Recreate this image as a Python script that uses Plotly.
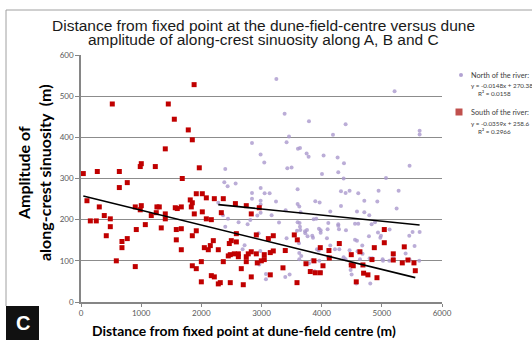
import plotly.graph_objects as go
import numpy as np

# ---------------- data ----------------
south_x = [1880, 520, 1451, 1551, 1783, 1850, 1401, 1002, 985, 1235, 1966, 38, 271, 637, 1683,
           769, 637, 99, 304, 387, 487, 155, 254, 487, 420, 681, 769, 681, 587, 902, 919, 1069,
           902, 1002, 985, 1168, 1262, 1301, 1251, 1401, 1401, 1334, 1567, 1600, 1667, 1816, 1850,
           1833, 1916, 2016, 2083, 2216, 2365, 1883, 2016, 2083, 2166, 2332, 2566, 2747, 2830, 2963,
           1584, 1667, 1916, 1584, 1850, 1667, 2199, 2050, 2116, 2149, 2282, 2465, 2498, 2582, 2582,
           2914, 3114, 3196, 2448, 2481, 2548, 2615, 2615, 2747, 2780, 2830, 2914, 3046, 3146, 3196,
           2747, 2930, 2997, 3046, 2365, 2000, 1850, 1916, 2000, 2166, 2216, 2282, 2315, 2481, 2664,
           2697, 2830, 3146,
           3545, 3595, 3395, 3977, 4121, 4293, 4492, 4636, 4875, 5041, 5041, 5190, 5373, 5190, 5340,
           5434, 5534, 5556, 4127, 3872, 3739, 4022, 3357, 3811, 3894, 3977, 4492, 4525, 4686, 4836,
           4697, 4769, 4919, 3590, 4575]
south_y = [528, 481, 481, 444, 418, 394, 372, 336, 329, 329, 326, 312, 317, 317, 300,
           290, 278, 246, 231, 210, 202, 197, 197, 183, 161, 147, 154, 132, 100, 86, 176, 188,
           231, 234, 224, 210, 231, 231, 217, 214, 202, 180, 229, 227, 231, 248, 241,
           231, 263, 263, 253, 251, 251, 214, 219, 202, 200, 217, 239, 234, 214, 229,
           176, 178, 173, 151, 161, 127, 149, 132, 127, 137, 127, 142, 149, 146, 166,
           163, 154, 161, 112, 115, 117, 117, 110, 110, 117, 122, 117, 115, 120, 124,
           98, 95, 100, 103, 98, 98, 88, 81, 49, 64, 61, 44, 47, 47, 81,
           42, 61, 66,
           163, 151, 125, 132, 125, 142, 115, 122, 132, 176, 144, 117, 134, 102, 95,
           102, 95, 76, 107, 100, 93, 88, 83, 74, 71, 71, 90, 88, 90, 103,
           70, 66, 59, 47, 49]

north_x = [3247, 2842, 2985, 3046, 2398,
           5212, 3384, 3789, 4398, 5628, 5628, 3457, 4188, 3417, 3606, 3640, 3750, 3783, 4032, 4265,
           4371, 3429, 3500, 5461, 4005, 4276, 4365, 5069,
           2382, 2437, 2570, 2986, 2842, 3052, 3135, 2842, 2985, 2985, 3241, 2282, 2985, 2930, 3168,
           2360, 2443, 2619, 2769, 2814, 3291, 2398, 2952, 2719, 2686, 2980, 2963, 3074, 3074,
           3600, 4321, 4398, 4464, 4608, 4946, 5279, 3600, 3628, 3894, 3966, 4709, 4925, 4321, 3401,
           3650, 4143, 4587, 4709, 4791, 5246, 3600, 3633, 3866, 3910, 4110, 4276, 4276, 4554, 4608,
           4830, 4886, 3639, 3645, 3590, 3723, 3756, 3955, 3983, 3983, 4099, 4288, 4404, 4936, 5129,
           4986, 4975, 5511, 5628, 5456, 3728, 3766, 3844, 3856, 3417, 3623, 4088, 4554, 4587, 4786,
           4675, 5544, 4143, 4221, 4293, 4464, 3922, 3950, 3628, 3661, 3628, 3844, 3789, 3961, 3883,
           3989, 4110, 4365, 4398, 4481, 4481, 4498, 4597, 4680, 4637, 4797, 4841, 5013, 5019, 5124,
           5191, 5395, 5461, 5622, 3395, 3467, 4575, 4808]
north_y = [542, 386, 358, 339, 323,
           512, 457, 439, 432, 416, 407, 402, 406, 388, 372, 374, 361, 353, 356, 351,
           337, 325, 327, 331, 311, 315, 300, 301,
           291, 281, 288, 277, 265, 264, 264, 251, 246, 237, 244, 241, 217, 210, 211,
           211, 202, 194, 189, 199, 193, 183, 167, 138, 128, 124, 91, 68, 55,
           274, 269, 265, 270, 264, 270, 270, 238, 232, 245, 242, 246, 244, 233, 223,
           218, 220, 220, 218, 211, 227, 194, 192, 201, 202, 192, 189, 185, 190, 190,
           189, 194, 183, 175, 173, 172, 175, 178, 174, 168, 177, 177, 174, 169, 176,
           161, 156, 170, 170, 161, 167, 160, 161, 156, 155, 143, 155, 151, 149, 160,
           137, 136, 137, 128, 128, 126, 128, 125, 119, 112, 104, 102, 94, 100, 75,
           73, 109, 109, 104, 92, 78, 67, 123, 117, 104, 106, 106, 104, 100, 100,
           106, 118, 103, 100, 61, 67, 45, 45]

north_fit = (-0.0148, 270.38)
south_fit = (-0.0359, 258.65)

title_lines = ["Distance from fixed point at the dune-field-centre versus dune",
               "amplitude of along-crest sinuosity along A, B and C"]
x_title = "Distance from fixed point at dune-field centre (m)"
y_title = "Amplitude of<br>along-crest sinuosity\u00a0 (m)"
north_label = ["North of the river:", "y = -0.0148x + 270.38", "R\u00b2 = 0.0158"]
south_label = ["South of the river:", "y = -0.0359x + 258.6", "R\u00b2 = 0.2966"]

# ---------------- layout geometry ----------------
W, H = 532, 340
L, R, T, B = 81, 90, 55, 38
PW, PH = W - L - R, H - T - B

def px(x):
    return (x - L) / PW

def py(y):
    return (H - B - y) / PH

fig = go.Figure()
fig.add_trace(go.Scatter(x=north_x, y=north_y, mode="markers", name="North",
                         marker=dict(symbol="circle", size=4, color="rgba(170,152,205,0.8)",
                                     line=dict(width=0))))
fig.add_trace(go.Scatter(x=south_x, y=south_y, mode="markers", name="South",
                         marker=dict(symbol="square", size=5, color="#C00000",
                                     line=dict(width=0))))

nx = np.array([min(north_x), max(north_x)])
sx = np.array([min(south_x), max(south_x)])
fig.add_trace(go.Scatter(x=nx, y=north_fit[0] * nx + north_fit[1], mode="lines",
                         line=dict(color="black", width=1.6)))
fig.add_trace(go.Scatter(x=sx, y=south_fit[0] * sx + south_fit[1], mode="lines",
                         line=dict(color="black", width=1.6)))

tickfont = dict(family="Lato", size=8, color="#595959")
fig.update_layout(
    width=W, height=H, margin=dict(l=L, r=R, t=T, b=B, pad=0),
    paper_bgcolor="white", plot_bgcolor="white", showlegend=False,
    xaxis=dict(range=[0, 6000], dtick=1000, tick0=0, ticks="outside", ticklen=3,
               tickcolor="#868686", tickwidth=1.3, showline=True, linecolor="#868686",
               linewidth=1.5, showgrid=False, zeroline=False, tickfont=tickfont),
    yaxis=dict(range=[0, 600], dtick=100, tick0=0, ticks="outside", ticklen=4,
               tickcolor="#868686", tickwidth=1.3, showline=True, linecolor="#868686",
               linewidth=1.5, showgrid=True, gridcolor="#8C8C8C", gridwidth=1.4,
               zeroline=False, tickfont=tickfont),
)

shapes = [
    dict(type="line", xref="paper", yref="paper", x0=px(6), x1=px(540), y0=py(10), y1=py(10),
         line=dict(color="#A0A0A0", width=1)),
    dict(type="line", xref="paper", yref="paper", x0=px(6), x1=px(6), y0=py(10), y1=py(306),
         line=dict(color="#A0A0A0", width=1)),
    dict(type="rect", xref="paper", yref="paper", x0=px(6), x1=px(39), y0=py(306), y1=py(345),
         fillcolor="#111111", line=dict(width=0)),
    dict(type="circle", xref="paper", yref="paper", x0=px(459), x1=px(463), y0=py(73), y1=py(77),
         fillcolor="rgba(170,152,205,0.9)", line=dict(width=0)),
    dict(type="rect", xref="paper", yref="paper", x0=px(455.5), x1=px(462.5), y0=py(108.5), y1=py(115.5),
         fillcolor="#C0504D", line=dict(width=0)),
]
fig.update_layout(shapes=shapes)

ann = []
def add_text(text, x, y, size, family="Liberation Sans", color="#000", xanchor="center",
             bold=False, angle=0):
    ann.append(dict(text=("<b>%s</b>" % text) if bold else text, x=px(x), y=py(y),
                    xref="paper", yref="paper", showarrow=False, xanchor=xanchor, yanchor="middle",
                    textangle=angle, font=dict(family=family, size=size, color=color)))

add_text(title_lines[0], 263, 26, 15.5, color="#1a1a1a")
add_text(title_lines[1], 263, 39.5, 15.5, color="#1a1a1a")
add_text(x_title, 243.5, 330, 13.9, family="Lato", bold=True)
add_text(y_title, 34, 173, 16, family="Lato", bold=True, angle=-90)
add_text("C", 22.5, 323, 20, family="Liberation Sans", color="white", bold=True)

lf = "Lato"
add_text(north_label[0], 469, 75, 7.3, family=lf, color="#404040", xanchor="left")
add_text(north_label[1], 469, 85, 6.3, family=lf, color="#404040", xanchor="left")
add_text(north_label[2], 494, 93.5, 6.3, family=lf, color="#404040")
add_text(south_label[0], 469, 112, 7.3, family=lf, color="#404040", xanchor="left")
add_text(south_label[1], 469, 123, 6.3, family=lf, color="#404040", xanchor="left")
add_text(south_label[2], 494, 131, 6.3, family=lf, color="#404040")
fig.update_layout(annotations=ann)

fig.write_html("out.html")
